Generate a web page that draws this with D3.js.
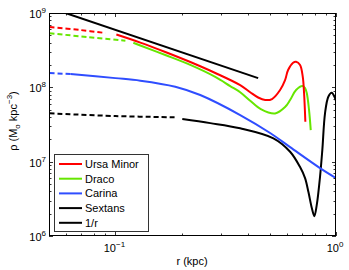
<!DOCTYPE html>
<html>
<head>
<meta charset="utf-8">
<script src="https://cdn.jsdelivr.net/npm/d3@7"></script>
<style>
  body { margin: 0; background: #fff; }
  svg { font-family: "Liberation Sans", Arial, sans-serif; }
</style>
</head>
<body>
<script>
// r in kpc, rho in Msun kpc^-3
const ursaMinorDashed = [[0.0503, 6.48e8], [0.0694, 5.9e8], [0.0901, 5.38e8]];
const ursaMinor = [[0.101, 5.13e8], [0.1297, 4.0e8], [0.1683, 2.99e8], [0.2185, 2.19e8],
    [0.2836, 1.56e8], [0.3678, 1.07e8], [0.4083, 8.6e7], [0.4437, 7.3e7], [0.4774, 6.75e7],
    [0.513, 6.96e7], [0.5579, 9.2e7], [0.5876, 1.25e8], [0.6065, 1.71e8], [0.6389, 2.14e8],
    [0.6592, 2.21e8], [0.6873, 2.0e8], [0.7067, 1.39e8], [0.7165, 8.38e7], [0.7262, 3.44e7]];

const dracoDashed = [[0.0503, 5.33e8], [0.0747, 4.75e8], [0.111, 4.24e8]];
const draco = [[0.1206, 3.98e8], [0.1297, 3.65e8], [0.1683, 2.72e8], [0.2185, 2.0e8],
    [0.2836, 1.38e8], [0.3314, 1.04e8], [0.3678, 8.6e7], [0.4083, 6.6e7], [0.4562, 5.1e7],
    [0.5297, 4.46e7], [0.5876, 5.43e7], [0.6193, 6.75e7], [0.6592, 9.2e7], [0.7053, 1.04e8],
    [0.724, 9.78e7], [0.737, 8.38e7], [0.7548, 4.95e7], [0.7683, 2.66e7]];

const carinaDashed = [[0.0503, 1.56e8], [0.0626, 1.51e8]];
const carina = [[0.0626, 1.51e8], [0.1, 1.33e8], [0.1297, 1.23e8], [0.1868, 1.02e8],
    [0.2424, 7.88e7], [0.3678, 4.24e7], [0.5028, 2.43e7], [0.6193, 1.57e7],
    [0.8464, 8.2e6], [1.0, 6.02e6]];

const sextansDashed = [[0.0503, 4.47e7], [0.1, 4.11e7], [0.1868, 3.95e7]];
const sextans = [[0.201, 3.74e7], [0.2691, 3.3e7], [0.3678, 2.81e7], [0.5204, 2.06e7],
    [0.6193, 1.36e7], [0.6873, 8.46e6], [0.724, 6.02e6], [0.75, 3.9e6], [0.7763, 2.4e6],
    [0.7976, 1.85e6], [0.8178, 2.6e6], [0.8464, 6.26e6], [0.8669, 1.43e7], [0.8917, 4.47e7],
    [0.923, 7.47e7], [0.9561, 8.46e7], [0.9897, 7.18e7], [1.0, 6.55e7]];

const oneOverR = [[0.0594, 1e9], [0.4437, 1.33e8]];

const legendNames = ['Ursa Minor', 'Draco', 'Carina', 'Sextans', '1/r'];
const legendColors = ['#ff0000', '#66e600', '#2f4dff', '#000000', '#000000'];

const xMajor = [0.1, 1];
const xMajorExp = ['\u22121', '0'];
const yMajor = [1e6, 1e7, 1e8, 1e9];
const yMajorExp = ['6', '7', '8', '9'];

const width = 349, height = 270;
const pLeft = 49, pRight = 336, pTop = 13, pBottom = 236;

const svg = d3.select('body').append('svg')
    .attr('width', width)
    .attr('height', height);

const x = d3.scaleLog().domain([0.05, 1]).range([pLeft, pRight]);
const y = d3.scaleLog().domain([1e6, 1e9]).range([pBottom, pTop]);

// minor ticks 2..9 in each decade
const xMinor = [];
[0.01, 0.1].forEach(d => d3.range(2, 10).forEach(k => {
    const v = d * k;
    if (v >= 0.05 && v < 1) xMinor.push(v);
}));
const yMinor = [];
[1e6, 1e7, 1e8].forEach(d => d3.range(2, 10).forEach(k => yMinor.push(d * k)));

svg.append('clipPath').attr('id', 'clip')
    .append('rect')
    .attr('x', pLeft).attr('y', pTop)
    .attr('width', pRight - pLeft).attr('height', pBottom - pTop);

const plot = svg.append('g').attr('clip-path', 'url(#clip)');

const line = d3.line()
    .x(d => x(d[0]))
    .y(d => y(d[1]))
    .curve(d3.curveCatmullRom.alpha(0.5));

const curves = [
    {data: sextansDashed, color: legendColors[3], dash: '5,3'},
    {data: sextans, color: legendColors[3]},
    {data: carinaDashed, color: legendColors[2], dash: '5,3'},
    {data: carina, color: legendColors[2]},
    {data: oneOverR, color: legendColors[4]},
    {data: dracoDashed, color: legendColors[1], dash: '5,3'},
    {data: draco, color: legendColors[1]},
    {data: ursaMinorDashed, color: legendColors[0], dash: '5,3'},
    {data: ursaMinor, color: legendColors[0]}
];

plot.selectAll('path.curve').data(curves).join('path')
    .attr('class', 'curve')
    .attr('d', d => line(d.data))
    .attr('fill', 'none')
    .attr('stroke', d => d.color)
    .attr('stroke-width', 2)
    .attr('stroke-dasharray', d => d.dash || null);

// box
svg.append('rect')
    .attr('x', pLeft + 0.5).attr('y', pTop + 0.5)
    .attr('width', pRight - pLeft - 1).attr('height', pBottom - pTop - 1)
    .attr('fill', 'none').attr('stroke', '#000').attr('stroke-width', 1);

// ticks (inward, on all four sides)
const tk = svg.append('g').attr('stroke', '#000').attr('stroke-width', 0.8);
const xt = xMajor.map(v => ({v, len: 4})).concat(xMinor.map(v => ({v, len: 2.5})));
xt.forEach(t => {
    const px = Math.round(x(t.v)) + 0.5;
    tk.append('line').attr('x1', px).attr('x2', px).attr('y1', pBottom).attr('y2', pBottom - t.len);
    tk.append('line').attr('x1', px).attr('x2', px).attr('y1', pTop).attr('y2', pTop + t.len);
});
const yt = yMajor.map(v => ({v, len: 4})).concat(yMinor.map(v => ({v, len: 2.5})));
yt.forEach(t => {
    const py = Math.round(y(t.v)) + 0.5;
    tk.append('line').attr('y1', py).attr('y2', py).attr('x1', pLeft).attr('x2', pLeft + t.len);
    tk.append('line').attr('y1', py).attr('y2', py).attr('x1', pRight).attr('x2', pRight - t.len);
});

// tick labels
const xl = svg.selectAll('text.xl').data(xMajor).join('text')
    .attr('class', 'xl')
    .attr('x', d => x(d) - 1)
    .attr('y', 252)
    .attr('text-anchor', 'middle')
    .attr('font-size', 11);
xl.append('tspan').text('10');
xl.append('tspan').attr('dy', -5).attr('font-size', 8).text((d, i) => xMajorExp[i]);

const yl = svg.selectAll('text.yl').data(yMajor).join('text')
    .attr('class', 'yl')
    .attr('x', 46)
    .attr('y', d => y(d) + 5)
    .attr('text-anchor', 'end')
    .attr('font-size', 11);
yl.append('tspan').text('10');
yl.append('tspan').attr('dy', -5).attr('font-size', 8).text((d, i) => yMajorExp[i]);

// axis titles
svg.append('text')
    .attr('x', 192).attr('y', 265)
    .attr('text-anchor', 'middle')
    .attr('font-size', 11)
    .text('r (kpc)');

const ylab = svg.append('text')
    .attr('transform', 'translate(17,121) rotate(-90)')
    .attr('text-anchor', 'middle')
    .attr('font-size', 11);
ylab.append('tspan').text('\u03c1 (M');
ylab.append('tspan').attr('dy', 3).attr('font-size', 8).text('o');
ylab.append('tspan').attr('dy', -3).text(' kpc');
ylab.append('tspan').attr('dy', -5).attr('font-size', 8).text('\u22123');
ylab.append('tspan').attr('dy', 5).text(')');

// legend
const lg = svg.append('g');
lg.append('rect')
    .attr('x', 54.5).attr('y', 154.5)
    .attr('width', 94).attr('height', 77)
    .attr('fill', '#fff').attr('stroke', '#333').attr('stroke-width', 1);
const items = lg.selectAll('g.item').data(legendNames).join('g')
    .attr('class', 'item')
    .attr('transform', (d, i) => `translate(0, ${164 + i * 14.7})`);
items.append('line')
    .attr('x1', 59).attr('x2', 82)
    .attr('stroke', (d, i) => legendColors[i])
    .attr('stroke-width', 2);
items.append('text')
    .attr('x', 85).attr('y', 4)
    .attr('font-size', 11)
    .text(d => d);
</script>
</body>
</html>
